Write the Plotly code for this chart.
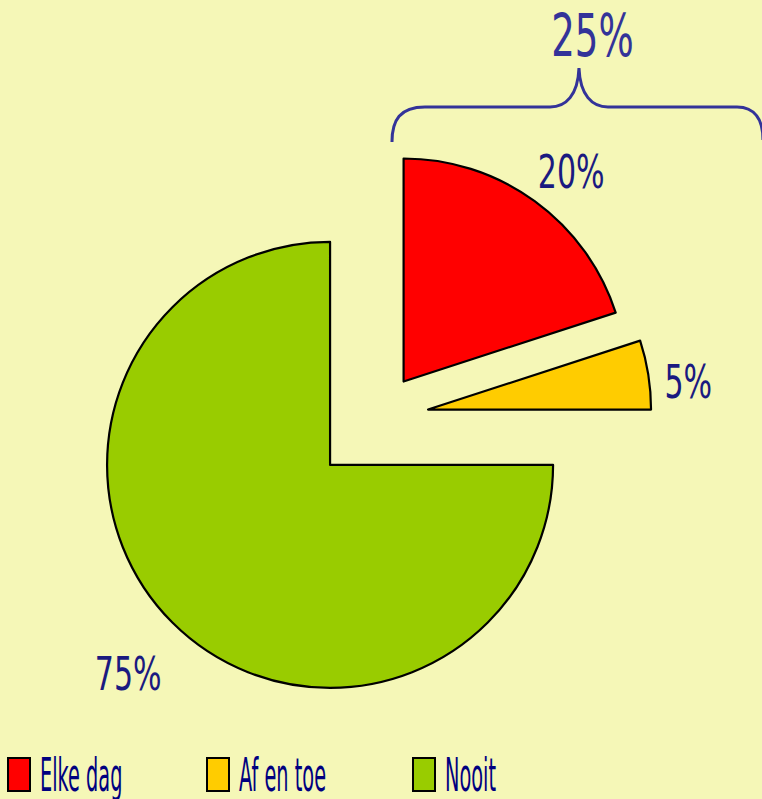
"""Taartdiagram: hoe vaak (Elke dag / Af en toe / Nooit)."""

import plotly.graph_objects as go

# data
labels = ["Elke dag", "Af en toe", "Nooit"]
values = [20, 5, 75]
colors = ["#ff0000", "#ffcc00", "#99cc00"]
pulls = [0.2, 0.23, 0.3]
group_label = "25%"   # Elke dag + Af en toe

W, H = 762, 799
BG = "#f5f7b7"
NAVY = "#1a1a80"
BRACE = "#333399"
FONT = "DejaVu Sans, sans-serif"


def px(x, y):
	"""pixel -> paper coords (margins are 0)."""
	return x / W, 1 - y / H


def label(x, y, text, size, color, anchor="center"):
	ax, ay = px(x, y)
	fig.add_annotation(
		x=ax, y=ay, xref="paper", yref="paper", text=text, showarrow=False,
		xanchor=anchor, yanchor="middle", align=anchor,
		font=dict(family=FONT, size=size, color=color),
	)


fig = go.Figure(go.Pie(
	labels=labels,
	values=values,
	pull=pulls,
	sort=False,
	direction="clockwise",
	rotation=0,
	marker=dict(colors=colors, line=dict(color="black", width=2.2)),
	textinfo="none",
	hoverinfo="label+percent",
	domain=dict(x=[0.1148, 0.8757], y=[0.1145, 0.8402]),
	showlegend=False,
))

# percentage labels
label_pos = [(571, 172), (688, 381), (128, 673)]
for v, (x, y) in zip(values, label_pos):
	label(x, y, f"{v}%", 47, NAVY)

# accolade boven rood + geel
bx, by = zip(*[px(x, y) for x, y in [
	(392, 142), (392, 120), (400, 107), (425, 107), (550, 107),
	(566, 107), (578, 95), (579, 68), (580, 95), (592, 107),
	(608, 107), (737, 107), (755, 107), (763, 120), (763, 140),
]])
p = [f"{bx[i]:.4f},{by[i]:.4f}" for i in range(len(bx))]
path = (
	f"M {p[0]} C {p[1]} {p[2]} {p[3]} L {p[4]} C {p[5]} {p[6]} {p[7]} "
	f"C {p[8]} {p[9]} {p[10]} L {p[11]} C {p[12]} {p[13]} {p[14]}"
)
fig.add_shape(type="path", path=path, xref="paper", yref="paper",
	line=dict(color=BRACE, width=3))
label(592, 36, group_label, 58, BRACE)

# handmatige legenda
legend_x = [8, 207, 413]
for lab, col, lx in zip(labels, colors, legend_x):
	x0, y0 = px(lx, 791)
	x1, y1 = px(lx + 22, 758)
	fig.add_shape(type="rect", x0=x0, y0=y0, x1=x1, y1=y1, xref="paper", yref="paper",
		fillcolor=col, line=dict(color="black", width=2))
	label(lx + 30, 775, lab, 46, "#000080", anchor="left")

fig.update_layout(
	width=W, height=H,
	margin=dict(l=0, r=0, t=0, b=0),
	paper_bgcolor=BG,
	plot_bgcolor=BG,
)

# geen smal lettertype beschikbaar: tekst horizontaal samendrukken
post = """
document.body.style.margin = '0';
var gd = document.getElementById('{plot_id}');
gd.querySelectorAll('.annotation-text').forEach(function (t) {
	var f = t.textContent.indexOf('%') >= 0 ? 0.64 : 0.42;
	t.setAttribute('textLength', t.getComputedTextLength() * f);
	t.setAttribute('lengthAdjust', 'spacingAndGlyphs');
});
"""

fig.write_html("out.html", post_script=post, config={"displayModeBar": False})
